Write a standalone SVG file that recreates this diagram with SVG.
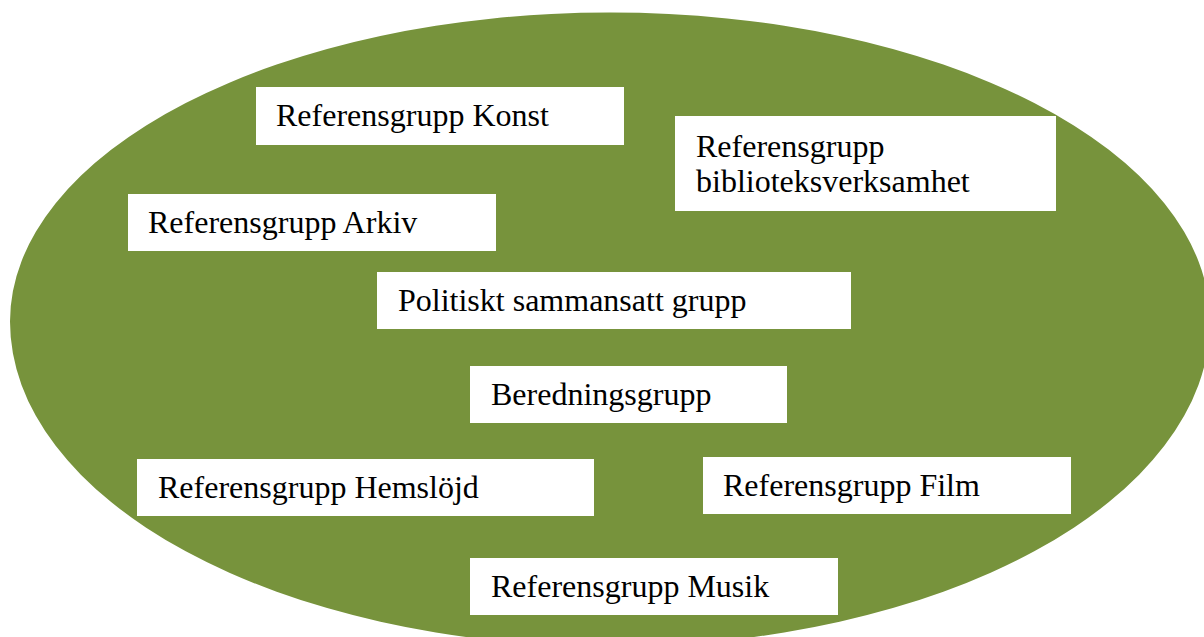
<svg xmlns="http://www.w3.org/2000/svg" width="1204" height="637" viewBox="0 0 1204 637">
<style>
.box{fill:#FFFFFF;stroke:none}
.lbl{font-family:"Liberation Serif","Times New Roman",serif;font-size:32px;fill:#000000}
</style>
<rect x="0" y="0" width="1204" height="637" fill="#FFFFFF"/>
<path id="oval" d="M 10 321.5 A 600 309 0 0 1 1210 321.5 A 600 325 0 0 1 10 321.5 Z" fill="#77933C"/>
<g id="connectors"></g>
<g id="konst"><rect class="box" x="256" y="87" width="368" height="58"/><text class="lbl" x="276" y="126">Referensgrupp Konst</text></g>
<g id="bibliotek"><rect class="box" x="675" y="116" width="381" height="95"/><text class="lbl" x="696" y="157">Referensgrupp</text><text class="lbl" x="696" y="192">biblioteksverksamhet</text></g>
<g id="arkiv"><rect class="box" x="128" y="194" width="368" height="57"/><text class="lbl" x="148" y="233">Referensgrupp Arkiv</text></g>
<g id="politiskt"><rect class="box" x="377" y="272" width="474" height="57"/><text class="lbl" x="398" y="311">Politiskt sammansatt grupp</text></g>
<g id="beredning"><rect class="box" x="470" y="366" width="317" height="57"/><text class="lbl" x="491" y="405">Beredningsgrupp</text></g>
<g id="hemslojd"><rect class="box" x="137" y="459" width="457" height="57"/><text class="lbl" x="158" y="498">Referensgrupp Hemslöjd</text></g>
<g id="film"><rect class="box" x="703" y="457" width="368" height="57"/><text class="lbl" x="723" y="496">Referensgrupp Film</text></g>
<g id="musik"><rect class="box" x="470" y="558" width="368" height="57"/><text class="lbl" x="491" y="597">Referensgrupp Musik</text></g>
</svg>
